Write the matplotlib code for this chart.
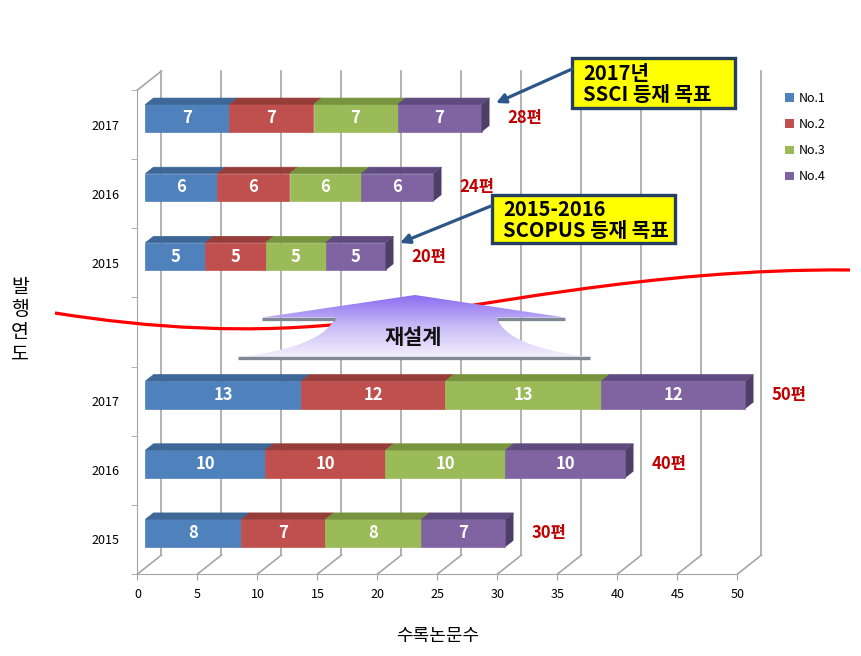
import numpy as np
import matplotlib.pyplot as plt
from matplotlib.patches import Polygon, Rectangle, PathPatch, Patch
from matplotlib.path import Path
from matplotlib.colors import LinearSegmentedColormap

plt.rcParams['font.family'] = ['Noto Sans CJK KR', 'DejaVu Sans']

# data: rows from bottom to top, the empty row separates the two plans
years = ['2015', '2016', '2017', '', '2015', '2016', '2017']
series_names = ['No.1', 'No.2', 'No.3', 'No.4']
no1 = [8, 10, 13, 0, 5, 6, 7]
no2 = [7, 10, 12, 0, 5, 6, 7]
no3 = [8, 10, 13, 0, 5, 6, 7]
no4 = [7, 10, 12, 0, 5, 6, 7]
x_ticks = [0, 5, 10, 15, 20, 25, 30, 35, 40, 45, 50]

front_colors = ['#4F81BD', '#C0504D', '#9BBB59', '#8064A2']
top_colors = ['#3D6797', '#963D3A', '#77933D', '#604B80']
side_color = '#4F3E68'
grid_color = '#A6A6A6'

# callouts / decorations (figure pixel coords, y down)
box1 = (572, 58, 163, 50)
box1_text = '2017년\nSSCI 등재 목표'
arrow1 = ((572, 69), (496, 103))
box2 = (492, 195, 183, 48)
box2_text = '2015-2016\nSCOPUS 등재 목표'
arrow2 = ((491, 206), (400, 243))
curve_pts = [(55, 313), (150, 328), (250, 335), (360, 322),
             (470, 309), (650, 268), (850, 270)]

W, H = 862, 656
fig = plt.figure(figsize=(W / 100, H / 100), dpi=100)
ax = fig.add_axes([137.5 / W, 82 / H, 600 / W, 484 / H])
ax.set_xlim(0, 50)
ax.set_ylim(-0.5, 6.5)

DX = 2.0    # wall depth in x units
DY = 0.275  # wall depth in row units

for s in ['top', 'right']:
    ax.spines[s].set_visible(False)
for s in ['left', 'bottom']:
    ax.spines[s].set_color(grid_color)
ax.set_xticks(x_ticks)
ax.set_xticklabels([str(v) for v in x_ticks], fontsize=9)
ax.tick_params(axis='x', length=4, color=grid_color, pad=6)
ax.set_yticks(range(len(years)))
ax.set_yticklabels(years, fontsize=9)
ax.set_yticks(np.arange(-0.5, 6.6, 1), minor=True)
ax.tick_params(axis='y', which='major', length=0, pad=13)
ax.tick_params(axis='y', which='minor', length=4, color=grid_color)

# back wall grid and floor
for v in x_ticks:
    ax.plot([v + DX, v + DX], [-0.5 + DY, 6.5 + DY], color=grid_color, lw=1.2, clip_on=False, zorder=1)
    ax.plot([v, v + DX], [-0.5, -0.5 + DY], color=grid_color, lw=1.2, clip_on=False, zorder=1)
ax.plot([0, DX], [6.5, 6.5 + DY], color=grid_color, lw=1.2, clip_on=False, zorder=1)

# 3d-ish stacked bars
bh = 0.4
series = [no1, no2, no3, no4]
for i in range(len(years)):
    total = sum(s[i] for s in series)
    if total == 0:
        continue
    y = i + DY / 3
    left = DX / 3
    for k, s in enumerate(series):
        v = s[i]
        bars = ax.barh(y, v, left=left, height=bh, color=front_colors[k],
                       edgecolor=front_colors[k], linewidth=0.5, zorder=3)
        for b in bars:
            b.set_clip_on(False)
        top = [(left, y + bh / 2), (left + v, y + bh / 2),
               (left + v + DX / 3, y + bh / 2 + DY / 3), (left + DX / 3, y + bh / 2 + DY / 3)]
        ax.add_patch(Polygon(top, closed=True, facecolor=top_colors[k], edgecolor=top_colors[k],
                             linewidth=0.5, zorder=3, clip_on=False))
        ax.text(left + v / 2, y, str(v), ha='center', va='center', color='white',
                fontsize=12, fontweight='bold', zorder=4)
        left += v
    side = [(left, y - bh / 2), (left, y + bh / 2),
            (left + DX / 3, y + bh / 2 + DY / 3), (left + DX / 3, y - bh / 2 + DY / 3)]
    ax.add_patch(Polygon(side, closed=True, facecolor=side_color, edgecolor='none',
                         zorder=3, clip_on=False))
    ax.text(left + DX / 3 + 1.5, y, '%d편' % total, ha='left', va='center', color='#C00000',
            fontsize=12, fontweight='bold', clip_on=False, zorder=4)

ax.set_xlabel('수록논문수', fontsize=13, labelpad=19)
fig.text(20 / W, 1 - 321 / H, '\n'.join('발행연도'), fontsize=14, ha='center', va='center',
         linespacing=1.08)

handles = [Patch(facecolor=c, edgecolor='none') for c in front_colors]
fig.legend(handles, series_names, loc='upper left', bbox_to_anchor=(785 / W, 1 - 92 / H),
           frameon=False, fontsize=9, handlelength=0.7, handleheight=0.7,
           handletextpad=0.4, labelspacing=1.05, borderpad=0, borderaxespad=0)

# overlay in pixel coordinates for the hand-drawn decorations
ov = fig.add_axes([0, 0, 1, 1], zorder=5)
ov.set_xlim(0, W)
ov.set_ylim(H, 0)
ov.axis('off')

codes = [Path.MOVETO] + [Path.CURVE4] * 6
ov.add_patch(PathPatch(Path(curve_pts, codes), facecolor='none', edgecolor='#FF0000', lw=2.3, zorder=2))

# "재설계" arrow-like shape with gradient
verts = [(415, 295), (565, 317.5), (497, 317.5),
         (502, 335), (530, 350), (590, 357),
         (238, 357),
         (300, 350), (328, 335), (335, 317.5),
         (262, 317.5), (415, 295)]
scodes = [Path.MOVETO, Path.LINETO, Path.LINETO,
          Path.CURVE4, Path.CURVE4, Path.CURVE4,
          Path.LINETO,
          Path.CURVE4, Path.CURVE4, Path.CURVE4,
          Path.LINETO, Path.CLOSEPOLY]
shape = PathPatch(Path(verts, scodes), facecolor='none', edgecolor='none', zorder=3)
ov.add_patch(shape)
grad = np.linspace(0, 1, 256).reshape(-1, 1)
cmap = LinearSegmentedColormap.from_list('sh', ['#8A6CF0', '#C9BCF7', '#F4F2FD'])
im = ov.imshow(grad, cmap=cmap, extent=(238, 590, 358, 295), aspect='auto', zorder=3)
im.set_clip_path(shape)
ov.set_xlim(0, W)
ov.set_ylim(H, 0)
shelf = '#7F8994'
ov.plot([262, 335], [318.5, 318.5], color=shelf, lw=2.4, zorder=4, solid_capstyle='butt')
ov.plot([497, 565], [318.5, 318.5], color=shelf, lw=2.4, zorder=4, solid_capstyle='butt')
ov.plot([238, 590], [358, 358], color=shelf, lw=2.4, zorder=4, solid_capstyle='butt')
ov.text(413, 337, '재설계', ha='center', va='center', fontsize=15, fontweight='bold',
        color='#111111', zorder=5)

# callout boxes
for (bx, by, bw, bhh), txt, (p0, p1) in [(box1, box1_text, arrow1), (box2, box2_text, arrow2)]:
    ov.add_patch(Rectangle((bx, by), bw, bhh, facecolor='#FFFF00', edgecolor='#243F60',
                           lw=2.4, zorder=6))
    ov.text(bx + 11, by + bhh / 2 + 1, txt, ha='left', va='center', fontsize=14.5,
            fontweight='bold', color='black', linespacing=1.0, zorder=7)
    ov.annotate('', xy=p1, xytext=p0,
                arrowprops=dict(arrowstyle='-|>', color='#2C5589', lw=2.3,
                                mutation_scale=14, shrinkA=0, shrinkB=0), zorder=6)

fig.savefig('out.png', dpi=100)
